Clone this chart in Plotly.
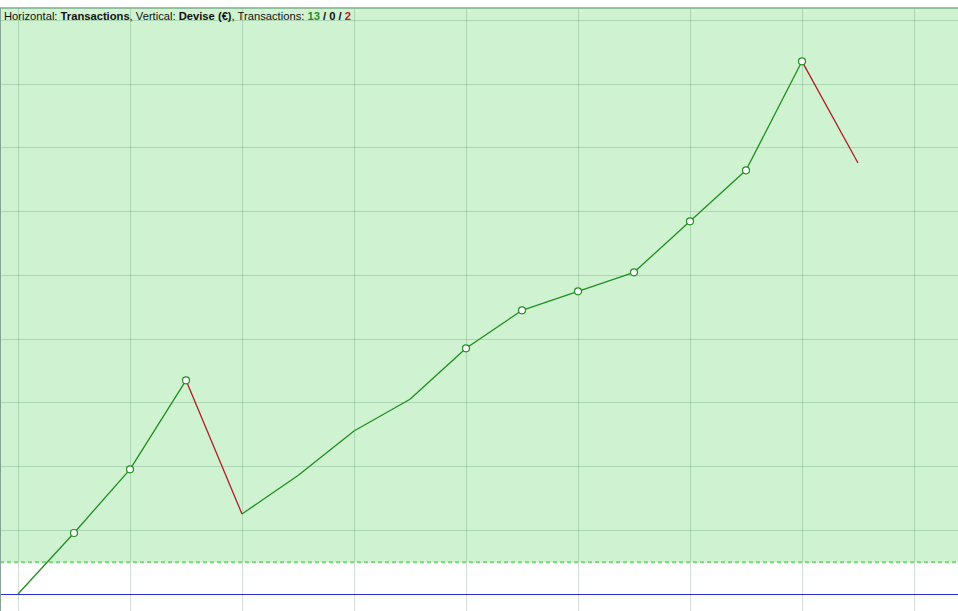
import plotly.graph_objects as go

# ---- data ----
transactions = list(range(16))
equity = [0, 95.7, 195.6, 335.3, 125.5, 185.9, 255.7, 305.5, 385.5,
          445.1, 474.9, 504.7, 584.7, 664.7, 835.7, 676.2]
threshold = 50          # dashed green level
x_range = [-0.3214, 16.7857]
y_range = [-26.67, 919.36]
x_dtick = 2
y_dtick = 100

GREEN = "#1f8f1f"
RED = "#b01e24"
FILL = "#cff2d0"

# ---- build colored segments ----
gx, gy, rx, ry = [], [], [], []
wins = losses = flats = 0
for i in range(len(equity) - 1):
    d = equity[i + 1] - equity[i]
    seg_x = [transactions[i], transactions[i + 1], None]
    seg_y = [equity[i], equity[i + 1], None]
    if d > 0:
        gx += seg_x; gy += seg_y; wins += 1
    elif d < 0:
        rx += seg_x; ry += seg_y; losses += 1
    else:
        gx += seg_x; gy += seg_y; flats += 1

# markers at new equity highs
mx, my = [], []
peak = equity[0]
for x, y in zip(transactions[1:], equity[1:]):
    if y > peak:
        mx.append(x); my.append(y)
        peak = y

fig = go.Figure()
fig.add_trace(go.Scatter(x=gx, y=gy, mode="lines", line=dict(color=GREEN, width=1.3),
                         hoverinfo="skip", showlegend=False))
fig.add_trace(go.Scatter(x=rx, y=ry, mode="lines", line=dict(color=RED, width=1.3),
                         hoverinfo="skip", showlegend=False))
fig.add_trace(go.Scatter(x=mx, y=my, mode="markers",
                         marker=dict(size=7, color="white", line=dict(color=GREEN, width=1.2)),
                         showlegend=False))

# green zone above threshold
fig.add_shape(type="rect", xref="paper", yref="y", x0=0, x1=1, y0=threshold, y1=y_range[1],
              fillcolor=FILL, line=dict(width=0), layer="below")
fig.add_shape(type="line", xref="paper", yref="y", x0=0, x1=1, y0=threshold, y1=threshold,
              line=dict(color="#3fcf3f", width=1.2, dash="4px,3px"), layer="above")
# borders
fig.add_shape(type="line", xref="paper", yref="paper", x0=0, x1=1, y0=1, y1=1,
              line=dict(color="#7aae8a", width=1.5), layer="above")
fig.add_shape(type="line", xref="paper", yref="paper", x0=0, x1=0, y0=0, y1=1,
              line=dict(color="#86a596", width=2), layer="above")

title = ("Horizontal: <b>Transactions</b>, Vertical: <b>Devise (€)</b>, Transactions: "
         f"<b><span style='color:{GREEN}'>{wins}</span> / {flats} / "
         f"<span style='color:{RED}'>{losses}</span></b>")
fig.add_annotation(xref="paper", yref="paper", x=0, y=1, xanchor="left", yanchor="top",
                   xshift=2, yshift=0, text=title, showarrow=False, align="left",
                   font=dict(family="Liberation Sans, Arial", size=11.2, color="#111"))

fig.update_layout(
    width=958, height=611,
    margin=dict(l=0, r=0, t=8, b=0),
    paper_bgcolor="white", plot_bgcolor="white",
    xaxis=dict(range=x_range, tick0=0, dtick=x_dtick, showgrid=True,
               gridcolor="rgba(0,70,40,0.16)", gridwidth=1, zeroline=False,
               showticklabels=False, ticks="", fixedrange=True),
    yaxis=dict(range=y_range, tick0=0, dtick=y_dtick, showgrid=True,
               gridcolor="rgba(0,70,40,0.16)", gridwidth=1, zeroline=True,
               zerolinecolor="#2a2ae0", zerolinewidth=1.2,
               showticklabels=False, ticks="", fixedrange=True),
)

fig.write_html("out.html", config={"displayModeBar": False},
               post_script="document.body.style.margin='0px';document.body.style.overflow='hidden';")
